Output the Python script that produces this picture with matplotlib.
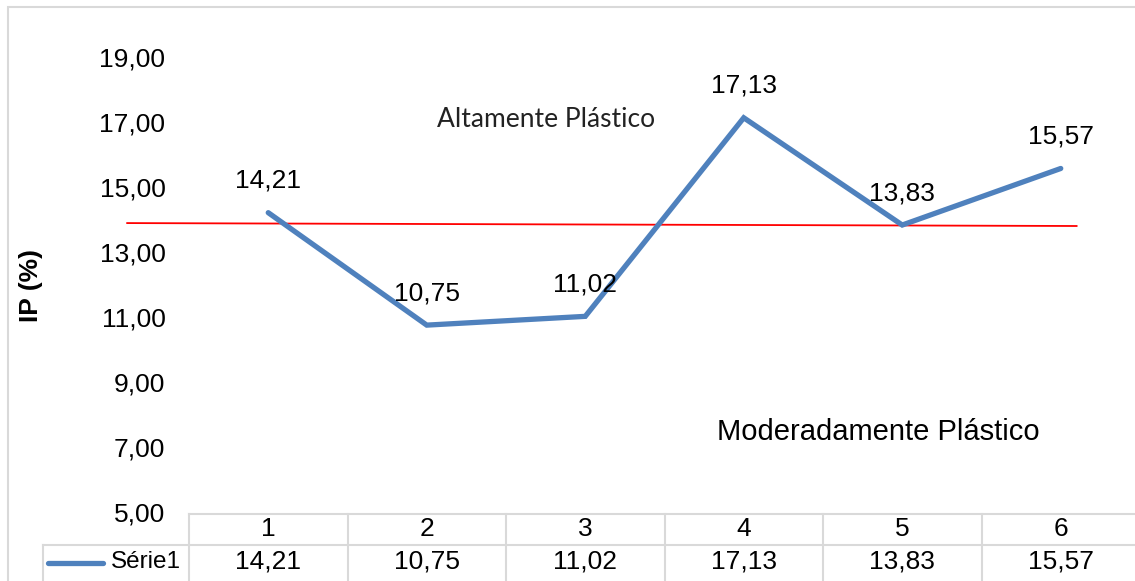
import numpy as np
import matplotlib.pyplot as plt
from matplotlib.patches import Rectangle

plt.rcParams['font.family'] = ['Liberation Sans', 'DejaVu Sans']

categories = ['1', '2', '3', '4', '5', '6']
ip_values = [14.21, 10.75, 11.02, 17.13, 13.83, 15.57]
series_name = 'Série1'
y_ticks = [5, 7, 9, 11, 13, 15, 17, 19]
ref_line_x = [0.11, 6.10]
ref_line_y = [13.89, 13.80]


def br(v):
    return f'{v:.2f}'.replace('.', ',')


W, H = 1135, 581
fs = 19
fig = plt.figure(figsize=(W / 100, H / 100), dpi=100)

# outer chart border
fig.patches.append(Rectangle((8 / W, -0.1), 1.2, (H - 7) / H + 0.1, transform=fig.transFigure,
                             fill=False, edgecolor='#d9d9d9', linewidth=1.5))

# plot area in pixels
px_left, px_y5, col_w, unit = 189, 512, 158.5, 32.5
ax = fig.add_axes([px_left / W, (H - px_y5) / H, 6 * col_w / W, 15 * unit / H])
ax.set_xlim(0.5, 6.5)
ax.set_ylim(5, 20)
ax.patch.set_alpha(0)
for s in ax.spines.values():
    s.set_visible(False)

x = np.arange(1, len(categories) + 1)
ax.plot(x, ip_values, color='#4f81bd', linewidth=3.8, solid_capstyle='round',
        solid_joinstyle='miter', zorder=3)
ax.plot(ref_line_x, ref_line_y, color='#ff0000', linewidth=1.3, zorder=2, clip_on=False)

for xi, v in zip(x, ip_values):
    ax.annotate(br(v), (xi, v), xytext=(0, 23), textcoords='offset points',
                ha='center', va='center', fontsize=fs)

ax.set_yticks(y_ticks)
ax.set_yticklabels([br(t) for t in y_ticks], fontsize=fs)
ax.tick_params(axis='y', length=0, pad=17)
ax.set_xticks([])
ax.set_ylabel('IP (%)', fontsize=fs, fontweight='bold')
ax.yaxis.set_label_coords(-(px_left - 43) / (6 * col_w), (px_y5 - 285) / (15 * unit))

ax.text(2.75, 17.09, 'Altamente Plástico', ha='center', va='center',
        fontsize=19, family=['Lato', 'DejaVu Sans'], color='#222222')
ax.text(4.85, 7.46, 'Moderadamente Plástico', ha='center', va='center', fontsize=21)

# data table below the axis
trans = ax.get_xaxis_transform()
ah = 15 * unit


def fy(p):
    return (px_y5 - p) / ah


def fx(p):
    return 0.5 + (p - px_left) / col_w


grid = '#d9d9d9'
row_top, row_mid, row_bot = fy(514), fy(545), fy(600)
edges = np.arange(0.5, len(categories) + 1.5)
leg_x0 = fx(43)
ax.plot([edges[0], edges[-1]], [row_top, row_top], color=grid, lw=1.5, transform=trans, clip_on=False)
ax.plot([leg_x0, edges[-1]], [row_mid, row_mid], color=grid, lw=1.5, transform=trans, clip_on=False)
for e in edges:
    ax.plot([e, e], [row_top, row_bot], color=grid, lw=1.5, transform=trans, clip_on=False)
ax.plot([leg_x0, leg_x0], [row_mid, row_bot], color=grid, lw=1.5, transform=trans, clip_on=False)

for xi, c, v in zip(x, categories, ip_values):
    ax.text(xi, (row_top + row_mid) / 2, c, ha='center', va='center', fontsize=fs,
            transform=trans, clip_on=False)
    ax.text(xi, fy(562), br(v), ha='center', va='center', fontsize=fs,
            transform=trans, clip_on=False)

ax.plot([fx(48), fx(103)], [fy(563), fy(563)], color='#4f81bd', lw=3.8, solid_capstyle='round',
        transform=trans, clip_on=False)
ax.text(fx(181), fy(562), series_name, ha='right', va='center', fontsize=17.5,
        transform=trans, clip_on=False)

fig.savefig('out.png', dpi=100)
